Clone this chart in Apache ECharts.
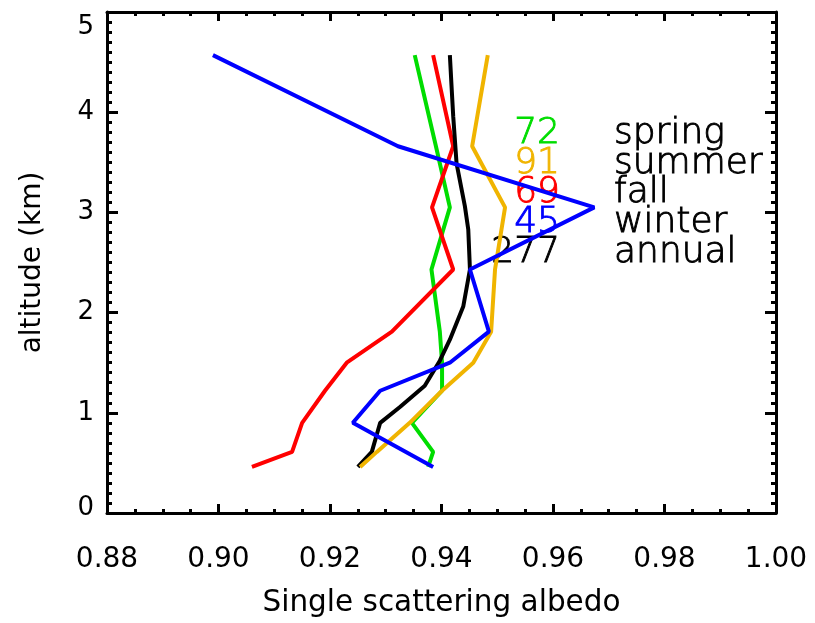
<!DOCTYPE html>
<html>
<head>
<meta charset="utf-8">
<script src="https://cdn.jsdelivr.net/npm/echarts@6/dist/echarts.min.js"></script>
<style>
html,body{margin:0;padding:0;background:#fff;}
#chart{width:815px;height:623px;}
</style>
</head>
<body>
<div id="chart"></div>
<script>
// ---- data ----
const xTickLabels = ['0.88','0.90','0.92','0.94','0.96','0.98','1.00'];
const yTickLabels = ['0','1','2','3','4','5'];

const springAlt  = [0.46, 0.61, 0.90, 1.22, 1.50, 1.81, 2.43, 3.05, 3.66, 4.57];
const springSSA  = [0.9376, 0.9385, 0.9347, 0.9401, 0.9401, 0.9397, 0.9382, 0.9415, 0.9390, 0.9352];

const summerAlt  = [0.46, 0.61, 0.90, 1.22, 1.50, 1.81, 2.43, 3.05, 3.66, 4.57];
const summerSSA  = [0.9254, 0.9284, 0.9343, 0.9401, 0.9457, 0.9489, 0.9496, 0.9514, 0.9455, 0.9483];

const fallAlt    = [0.46, 0.61, 0.90, 1.22, 1.50, 1.81, 2.43, 3.05, 3.66, 4.57];
const fallSSA    = [0.9060, 0.9132, 0.9150, 0.9191, 0.9230, 0.9311, 0.9421, 0.9383, 0.9421, 0.9385];

const winterAlt  = [0.46, 0.90, 1.22, 1.50, 1.81, 2.43, 3.05, 3.66, 4.57];
const winterSSA  = [0.9385, 0.9241, 0.9290, 0.9415, 0.9485, 0.9451, 0.9674, 0.9322, 0.8990];

const annualAlt  = [0.46, 0.61, 0.90, 1.06, 1.27, 1.52, 1.73, 2.06, 2.43, 2.83, 3.06, 3.49, 3.96, 4.26, 4.57];
const annualSSA  = [0.9250, 0.9275, 0.9290, 0.9326, 0.9370, 0.9397, 0.9415, 0.9439, 0.9451, 0.9448, 0.9442, 0.9427, 0.9421, 0.9418, 0.9415];

const seasonNames  = ['spring', 'summer', 'fall', 'winter', 'annual'];
const seasonCounts = ['72', '91', '69', '45', '277'];
const seasonColors = ['#00dd00', '#f0b400', '#ff0000', '#0000ff', '#000000'];

// ---- chart ----
const chart = echarts.init(document.getElementById('chart'), null, {renderer: 'canvas'});
const FONT = 'DejaVu Sans';

function pairs(xs, ys) { return xs.map((x, i) => [x, ys[i]]); }

function mkSeries(name, xs, ys, color) {
  return {
    name: name, type: 'line', xAxisIndex: 0, yAxisIndex: 0,
    data: pairs(xs, ys), symbol: 'none', showSymbol: false,
    lineStyle: {width: 4, color: color}, itemStyle: {color: color},
    z: 3, animation: false
  };
}

const axisLineStyle = {color: '#000', width: 3};
const baseX = {
  type: 'value', min: 0.88, max: 1.00, interval: 0.02,
  splitLine: {show: false},
  axisLine: {show: true, onZero: false, lineStyle: axisLineStyle},
  axisTick: {show: true, inside: true, length: 9, lineStyle: {color: '#000', width: 3}},
  minorTick: {show: true, splitNumber: 4, length: 4, lineStyle: {color: '#000', width: 3}},
  minorSplitLine: {show: false}
};
const baseY = {
  type: 'value', min: 0, max: 5, interval: 1,
  splitLine: {show: false},
  axisLine: {show: true, onZero: false, lineStyle: axisLineStyle},
  axisTick: {show: true, inside: true, length: 11, lineStyle: {color: '#000', width: 3}},
  minorTick: {show: true, splitNumber: 10, length: 5, lineStyle: {color: '#000', width: 3}},
  minorSplitLine: {show: false}
};

const graphics = [];
const baselineMid = [134, 164, 193, 223, 253];
seasonNames.forEach((n, i) => {
  graphics.push({
    type: 'text', x: 560, y: baselineMid[i], z: 1,
    style: {text: seasonCounts[i], fill: seasonColors[i], stroke: seasonColors[i], lineWidth: 0.9,
            font: '200 36px "DejaVu Sans"', align: 'right', verticalAlign: 'middle'}
  });
  graphics.push({
    type: 'text', x: 614, y: baselineMid[i], z: 1,
    style: {text: n, fill: '#000', stroke: '#000', lineWidth: 0.9,
            font: '200 36px "DejaVu Sans"', align: 'left', verticalAlign: 'middle'}
  });
});

const option = {
  backgroundColor: '#fff',
  animation: false,
  grid: {left: 107, right: 39, top: 12, bottom: 109, containLabel: false},
  xAxis: [
    Object.assign({}, baseX, {
      position: 'bottom',
      name: 'Single scattering albedo', nameLocation: 'middle', nameGap: 75,
      nameTextStyle: {fontFamily: FONT, fontSize: 29.5, color: '#000'},
      axisLabel: {show: true, margin: 33, fontFamily: FONT, fontSize: 28, color: '#000',
                  formatter: (v) => xTickLabels[Math.round((v - 0.88) / 0.02)]}
    }),
    Object.assign({}, baseX, {position: 'top', axisLabel: {show: false}})
  ],
  yAxis: [
    Object.assign({}, baseY, {
      position: 'left',
      name: 'altitude (km)', nameLocation: 'middle', nameGap: 60,
      nameTextStyle: {fontFamily: FONT, fontSize: 28, color: '#000'},
      axisLabel: {show: true, margin: 13, fontFamily: FONT, fontSize: 26, color: '#000',
                  formatter: (v) => {
                    const i = Math.round(v);
                    if (i === 5) return '{top|' + yTickLabels[i] + '}';
                    if (i === 0) return '{bot|' + yTickLabels[i] + '}';
                    return yTickLabels[i];
                  },
                  rich: {
                    top: {fontFamily: FONT, fontSize: 26, color: '#000', padding: [30, 0, 0, 0]},
                    bot: {fontFamily: FONT, fontSize: 26, color: '#000', padding: [0, 0, 10, 0]}
                  }}
    }),
    Object.assign({}, baseY, {position: 'right', axisLabel: {show: false}})
  ],
  series: [
    mkSeries('spring', springSSA, springAlt, seasonColors[0]),
    mkSeries('fall', fallSSA, fallAlt, seasonColors[2]),
    mkSeries('annual', annualSSA, annualAlt, seasonColors[4]),
    mkSeries('summer', summerSSA, summerAlt, seasonColors[1]),
    mkSeries('winter', winterSSA, winterAlt, seasonColors[3])
  ],
  graphic: graphics
};
chart.setOption(option);
</script>
</body>
</html>
